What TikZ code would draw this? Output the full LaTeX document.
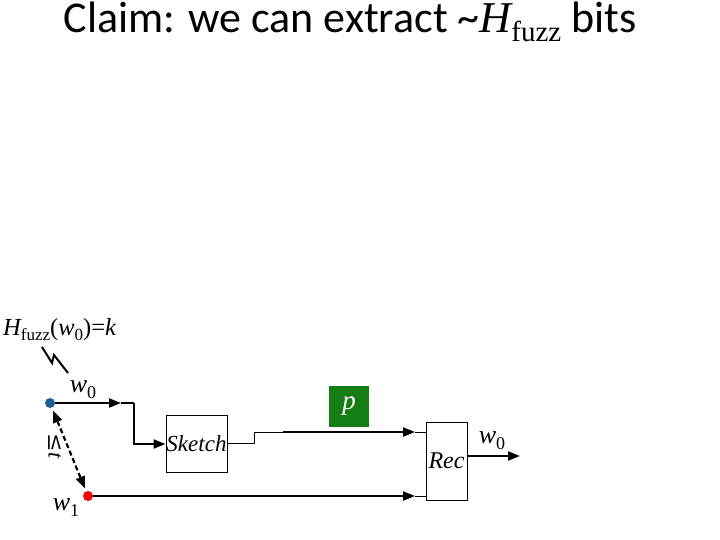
\documentclass[tikz,border=0pt]{standalone}
\usepackage{fontspec}
\setmainfont{Liberation Serif}
\newfontfamily\titlefont{Carlito}
\newfontfamily\symfont{DejaVu Serif}
\usetikzlibrary{arrows.meta}
\begin{document}
\begin{tikzpicture}[x=1pt,y=-1pt,
  thk/.style={line width=2.2pt},
  thn/.style={line width=1pt},
  tip/.style={-{Triangle[length=12pt,width=9pt]}},
  dotnode/.style={circle,inner sep=0pt,minimum size=10pt},
  boxnode/.style={draw,line width=1pt,inner sep=0pt,font=\fontsize{23}{23}\selectfont\itshape},
  lbl/.style={font=\fontsize{20}{20}\selectfont,inner sep=0pt}]
\useasboundingbox (0,0) rectangle (720,540);
\definecolor{dotblue}{RGB}{30,95,150}
\definecolor{pgreen}{RGB}{20,125,20}

\node[inner sep=0pt,anchor=base] (title) at (350,33) {\titlefont\fontsize{44}{44}\selectfont Claim: we can extract \textasciitilde{}\rmfamily\itshape H\upshape\fontsize{29}{29}\selectfont\raisebox{-9pt}{fuzz}\titlefont\fontsize{44}{44}\selectfont{} bits};

\node[lbl,anchor=base west] (hf) at (3,335) {\fontsize{24.5}{24}\selectfont\itshape H\upshape\fontsize{17}{17}\selectfont\raisebox{-5pt}{fuzz}\fontsize{24.5}{24}\selectfont(\itshape w\upshape\fontsize{17}{17}\selectfont\raisebox{-5pt}{0}\fontsize{24.5}{24}\selectfont)=\itshape k};

\coordinate (z1) at (42,347);
\coordinate (z2) at (52,363);
\coordinate (z3) at (54,355);
\coordinate (z4) at (68,373);
\draw[line width=2pt] (z1) -- (z2) -- (z3) -- (z4);

\node[dotnode,fill=dotblue] (w0) at (50,403) {};
\node[dotnode,fill=red] (w1) at (88,496) {};

\node[lbl,anchor=base] (w0lab) at (83,392) {\fontsize{26}{26}\selectfont\itshape w\upshape\fontsize{18}{18}\selectfont\raisebox{-6pt}{0}};
\node[lbl,anchor=base] (w1lab) at (66,510) {\fontsize{26}{26}\selectfont\itshape w\upshape\fontsize{18}{18}\selectfont\raisebox{-6pt}{1}};

\node[boxnode,minimum width=61pt,minimum height=57pt] (sketch) at (196.5,444) {Sketch};
\node[boxnode,minimum width=41pt,minimum height=78pt,font=\fontsize{24}{24}\selectfont\itshape] (rec) at (446.5,461) {Rec};
\node[fill=pgreen,text=white,inner sep=0pt,minimum width=40pt,minimum height=41pt,font=\fontsize{27}{27}\selectfont\itshape] (p) at (349,406.5) {p};

% w0 to sketch
\coordinate (a1) at (121,403);
\coordinate (c1) at (134,403);
\draw[thk,tip] (w0.east) -- (a1);
\draw[thk] (a1) -- (c1);
\draw[thk,tip] (c1) |- (sketch.west);

% sketch to rec
\coordinate (s1) at (254,443);
\coordinate (s2) at (254,432);
\coordinate (s3) at (283,432);
\coordinate (s4) at (415,432);
\draw[thn] (sketch.east |- s1) -- (s1) -- (s2) -- (s3);
\draw[thk,tip] (s3) -- (s4);
\draw[thn] (s4) -- (rec.west |- s4);

% w1 to rec
\coordinate (b1) at (415,496);
\draw[thk,tip] (w1.east) -- (b1);
\draw[thn] (b1) -- (rec.west |- b1);

% rec out
\coordinate (out) at (520,456);
\draw[thk,tip] (rec.east |- out) -- (out);
\node[lbl,anchor=base] (w0out) at (492,443) {\fontsize{26}{26}\selectfont\itshape w\upshape\fontsize{18}{18}\selectfont\raisebox{-6pt}{0}};

% distance
\draw[thk,dash pattern=on 5pt off 3pt,{Triangle[length=12pt,width=9pt]}-{Triangle[length=12pt,width=9pt]},shorten <=3pt,shorten >=3pt] (w0) -- (w1);
\node[lbl,rotate=-90] (tlab) at (55,446) {\fontsize{22}{22}\selectfont\symfont ≤\rmfamily\itshape t};
\end{tikzpicture}
\end{document}
